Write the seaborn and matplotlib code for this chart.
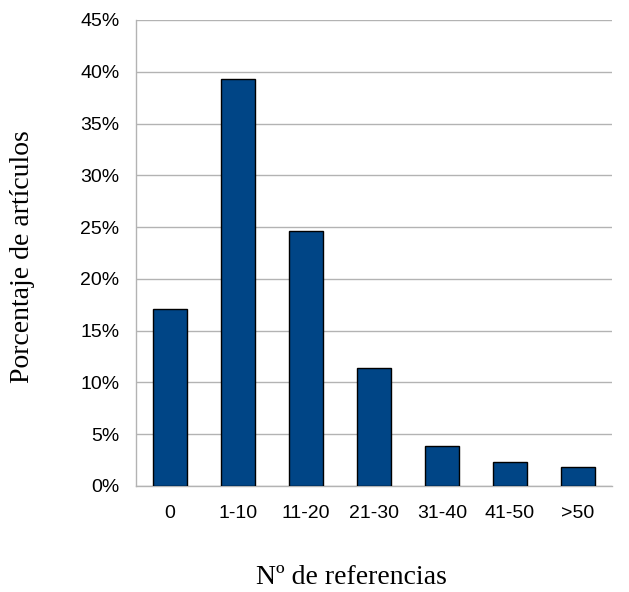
import matplotlib
matplotlib.use("Agg")
import matplotlib.pyplot as plt
import seaborn as sns
import pandas as pd
from matplotlib.ticker import FixedLocator, PercentFormatter

categories = ["0", "1-10", "11-20", "21-30", "31-40", "41-50", ">50"]
values = [17.1, 39.3, 24.6, 11.4, 3.9, 2.3, 1.8]
y_ticks = [0, 5, 10, 15, 20, 25, 30, 35, 40, 45]

df = pd.DataFrame({"cat": categories, "val": values})

sns.set_style("white")
plt.rcParams["font.family"] = ["Liberation Sans", "DejaVu Sans"]
plt.rcParams["text.color"] = "black"
plt.rcParams["xtick.labelcolor"] = "black"
plt.rcParams["ytick.labelcolor"] = "black"

fig = plt.figure(figsize=(6.29, 5.92), dpi=100)
ax = fig.add_axes([136 / 629, (592 - 486) / 592, (612 - 136) / 629, (486 - 20) / 592])

sns.barplot(data=df, x="cat", y="val", color="#004586", saturation=1,
            width=0.5, edgecolor="black", linewidth=1, ax=ax, zorder=3)

grid_c = "#b3b3b3"
ax.set_ylim(0, 45)
ax.set_xlim(-0.5, len(categories) - 0.5)
ax.set_yticks(y_ticks)
ax.yaxis.set_major_formatter(PercentFormatter(decimals=0))
ax.grid(axis="y", color=grid_c, linewidth=1, zorder=0)
ax.set_axisbelow(True)

for s in ["top", "right"]:
    ax.spines[s].set_visible(False)
for s in ["left", "bottom"]:
    ax.spines[s].set_color(grid_c)
    ax.spines[s].set_linewidth(1)

ax.tick_params(axis="y", length=9, color=grid_c, width=1, labelsize=14, pad=3,
               labelcolor="black")
ax.tick_params(axis="x", which="major", length=0, labelsize=14, pad=14,
               labelcolor="black")
ax.xaxis.set_minor_locator(FixedLocator([i - 0.5 for i in range(len(categories) + 1)]))
ax.tick_params(axis="x", which="minor", length=9, color=grid_c, width=1)

serif = ["Liberation Serif", "DejaVu Serif"]
ax.set_xlabel("Nº de referencias", fontfamily=serif, fontsize=20, color="black")
ax.set_ylabel("Porcentaje de artículos", fontfamily=serif, fontsize=20, color="black")
ax.xaxis.set_label_coords((351 - 136) / (612 - 136), -(578 - 486) / (486 - 20))
ax.xaxis.label.set_verticalalignment("center")
ax.yaxis.set_label_coords(-(136 - 23) / (612 - 136), (486 - 257) / (486 - 20))
ax.yaxis.label.set_verticalalignment("center")

fig.savefig("out.png", dpi=100, facecolor="white")
